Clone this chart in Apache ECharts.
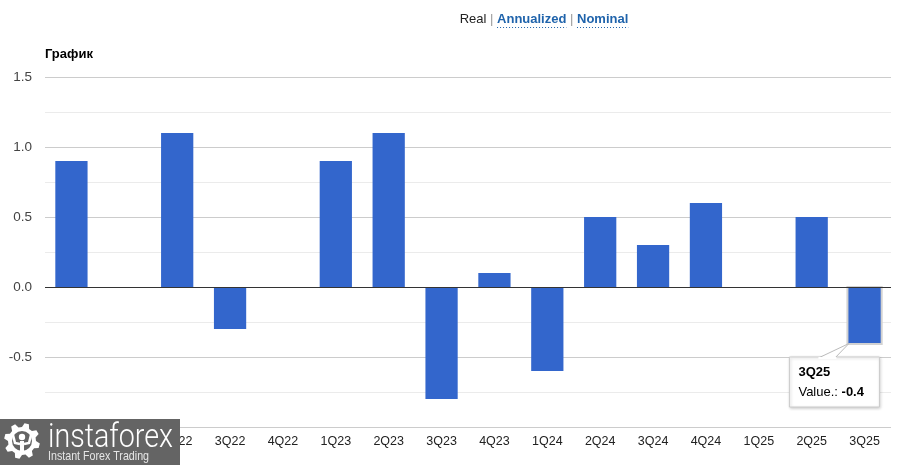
<!DOCTYPE html>
<html>
<head>
<meta charset="utf-8">
<script src="https://cdn.jsdelivr.net/npm/echarts@6/dist/echarts.min.js"></script>
<style>
html,body{margin:0;padding:0;background:#fff;}
#main{width:918px;height:465px;}
</style>
</head>
<body>
<div id="main"></div>
<script>
const categories = ['4Q21','1Q22','2Q22','3Q22','4Q22','1Q23','2Q23','3Q23','4Q23','1Q24','2Q24','3Q24','4Q24','1Q25','2Q25','3Q25'];
const values = [0.9, 0, 1.1, -0.3, 0, 0.9, 1.1, -0.8, 0.1, -0.6, 0.5, 0.3, 0.6, 0, 0.5, -0.4];
const yMin = -1, yMax = 1.5, yStep = 0.25;
const headerItems = ['Real', 'Annualized', 'Nominal'];
const chartTitle = 'График';
const tipIndex = 15;
const tipLabel = 'Value.: ';

const FONT = 'Arial, "Liberation Sans", sans-serif';
const BLUE_LINK = '#1f63ab';

const chart = echarts.init(document.getElementById('main'), null, {renderer: 'canvas'});

chart.setOption({
  animation: false,
  backgroundColor: '#fff',
  grid: {left: 45, right: 27, top: 77, bottom: 38},
  xAxis: {
    type: 'category',
    data: categories,
    axisLine: {show: false},
    axisTick: {show: false},
    axisLabel: {color: '#222', fontSize: 12.5, fontFamily: FONT, margin: 8, interval: 0}
  },
  yAxis: {
    type: 'value',
    min: yMin, max: yMax, interval: yStep,
    axisLine: {show: false},
    axisTick: {show: false},
    axisLabel: {
      color: '#444', fontSize: 13.5, fontFamily: FONT, margin: 13,
      formatter: function (v) {
        if (v <= yMin + 1e-9) return '';
        if (Math.abs(v * 2 - Math.round(v * 2)) > 1e-9) return '';
        return v.toFixed(1);
      }
    },
    splitLine: {lineStyle: {color: ['#cccccc', '#ebebeb'], width: 1}}
  },
  series: [{
    type: 'bar',
    data: values,
    barCategoryGap: '39%',
    itemStyle: {color: '#3366cc'},
    z: 3,
    silent: true,
    markLine: {
      silent: true,
      symbol: 'none',
      label: {show: false},
      lineStyle: {color: '#333', width: 1, type: 'solid'},
      data: [{yAxis: 0}],
      z: 4
    }
  }]
});

const mctx = document.createElement('canvas').getContext('2d');
function measure(text, font) { mctx.font = font; return mctx.measureText(text).width; }

const g = [];

// header links
(function () {
  const fb = 'bold 13px ' + FONT;
  const fs = '13px ' + FONT;
  const sep = ' | ';
  const parts = [];
  headerItems.forEach(function (t, i) {
    if (i > 0) parts.push({t: sep, font: fs, color: '#999', link: false});
    parts.push({t: t, font: i === 0 ? fs : fb, color: i === 0 ? '#222' : BLUE_LINK, link: i > 0});
  });
  let total = 0;
  parts.forEach(function (p) { p.w = measure(p.t, p.font); total += p.w; });
  let x = 544 - total / 2;
  parts.forEach(function (p) {
    g.push({type: 'text', x: x, y: 19, style: {text: p.t, font: p.font, fill: p.color, textVerticalAlign: 'middle', verticalAlign: 'middle'}});
    if (p.link) {
      g.push({type: 'line', shape: {x1: x, y1: 27.5, x2: x + p.w, y2: 27.5}, style: {stroke: p.color, lineWidth: 1, lineDash: [1, 2]}});
    }
    x += p.w;
  });
})();

// chart title
g.push({type: 'text', x: 45, y: 54, style: {text: chartTitle, font: 'bold 13px ' + FONT, fill: '#000', verticalAlign: 'middle', textVerticalAlign: 'middle'}});

// tooltip + highlight from layout
(function () {
  const data = chart.getModel().getSeriesByIndex(0).getData();
  const lay = data.getItemLayout(tipIndex);
  const bx = Math.min(lay.x, lay.x + lay.width);
  const by = Math.min(lay.y, lay.y + lay.height);
  const bw = Math.abs(lay.width), bh = Math.abs(lay.height);
  g.push({type: 'rect', z: 1, shape: {x: bx - 2, y: by - 1, width: bw + 4, height: bh + 3}, style: {fill: '#d2d2d2'}});
  const bottom = by + bh;
  const boxX = bx - 59, boxY = bottom + 14, boxW = 90, boxH = 50;
  g.push({type: 'rect', z: 100, shape: {x: boxX, y: boxY, width: boxW, height: boxH},
    style: {fill: '#fff', stroke: '#cccccc', lineWidth: 1, shadowBlur: 3, shadowOffsetX: 1, shadowOffsetY: 1, shadowColor: 'rgba(0,0,0,0.2)'}});
  g.push({type: 'polygon', z: 101, shape: {points: [[boxX + 30, boxY + 0.5], [bx + 0.5, bottom + 0.5], [boxX + 46, boxY + 0.5]]},
    style: {fill: '#fff', stroke: '#bbbbbb', lineWidth: 1}});
  g.push({type: 'rect', z: 102, shape: {x: boxX + 29, y: boxY, width: 18, height: 2}, style: {fill: '#fff'}});
  const tf = '13px ' + FONT, tb = 'bold 13px ' + FONT;
  g.push({type: 'text', z: 103, x: boxX + 9, y: boxY + 15, style: {text: categories[tipIndex], font: tb, fill: '#000', verticalAlign: 'middle', textVerticalAlign: 'middle'}});
  const lw = measure(tipLabel, tf);
  g.push({type: 'text', z: 103, x: boxX + 9, y: boxY + 35, style: {text: tipLabel, font: tf, fill: '#000', verticalAlign: 'middle', textVerticalAlign: 'middle'}});
  g.push({type: 'text', z: 103, x: boxX + 9 + lw, y: boxY + 35, style: {text: values[tipIndex].toFixed(1), font: tb, fill: '#000', verticalAlign: 'middle', textVerticalAlign: 'middle'}});
})();

// logo
(function () {
  g.push({type: 'rect', z: 200, shape: {x: 0, y: 419, width: 180, height: 46}, style: {fill: '#646464'}});
  const cx = 22, cy = 441, ro = 18, ri = 14, teeth = 8;
  const pts = [];
  for (let i = 0; i < teeth; i++) {
    const a0 = (i / teeth) * Math.PI * 2;
    const step = Math.PI * 2 / teeth;
    const angs = [a0, a0 + step * 0.18, a0 + step * 0.5, a0 + step * 0.68];
    pts.push([cx + ri * Math.cos(angs[0]), cy + ri * Math.sin(angs[0])]);
    pts.push([cx + ro * Math.cos(angs[1]), cy + ro * Math.sin(angs[1])]);
    pts.push([cx + ro * Math.cos(angs[2]), cy + ro * Math.sin(angs[2])]);
    pts.push([cx + ri * Math.cos(angs[3]), cy + ri * Math.sin(angs[3])]);
  }
  g.push({type: 'polygon', z: 201, shape: {points: pts}, style: {fill: '#fff'}});
  g.push({type: 'circle', z: 202, shape: {cx: cx, cy: cy, r: 10}, style: {fill: '#646464'}});
  g.push({type: 'circle', z: 203, shape: {cx: cx, cy: cy - 4, r: 3.2}, style: {fill: '#fff'}});
  g.push({type: 'rect', z: 203, shape: {x: cx - 2, y: cy, width: 4, height: 12}, style: {fill: '#fff'}});
  g.push({type: 'polyline', z: 203, shape: {points: [[cx - 9, cy - 6], [cx - 7, cy + 2], [cx - 2, cy + 3]]}, style: {stroke: '#fff', lineWidth: 2.5, fill: 'none'}});
  g.push({type: 'polyline', z: 203, shape: {points: [[cx + 9, cy - 6], [cx + 7, cy + 2], [cx + 2, cy + 3]]}, style: {stroke: '#fff', lineWidth: 2.5, fill: 'none'}});
  const bigFont = '300 34px Roboto, "Open Sans", ' + FONT;
  const bw = measure('instaforex', bigFont);
  g.push({type: 'text', z: 204, x: 48, y: 438, scaleX: 125 / bw, style: {text: 'instaforex', font: bigFont, fill: '#fff', verticalAlign: 'middle', textVerticalAlign: 'middle'}});
  const smFont = '13px ' + FONT;
  const sw = measure('Instant Forex Trading', smFont);
  g.push({type: 'text', z: 204, x: 48, y: 456, scaleX: 101 / sw, style: {text: 'Instant Forex Trading', font: smFont, fill: '#e6e6e6', verticalAlign: 'middle', textVerticalAlign: 'middle'}});
})();

chart.setOption({graphic: g});
</script>
</body>
</html>
